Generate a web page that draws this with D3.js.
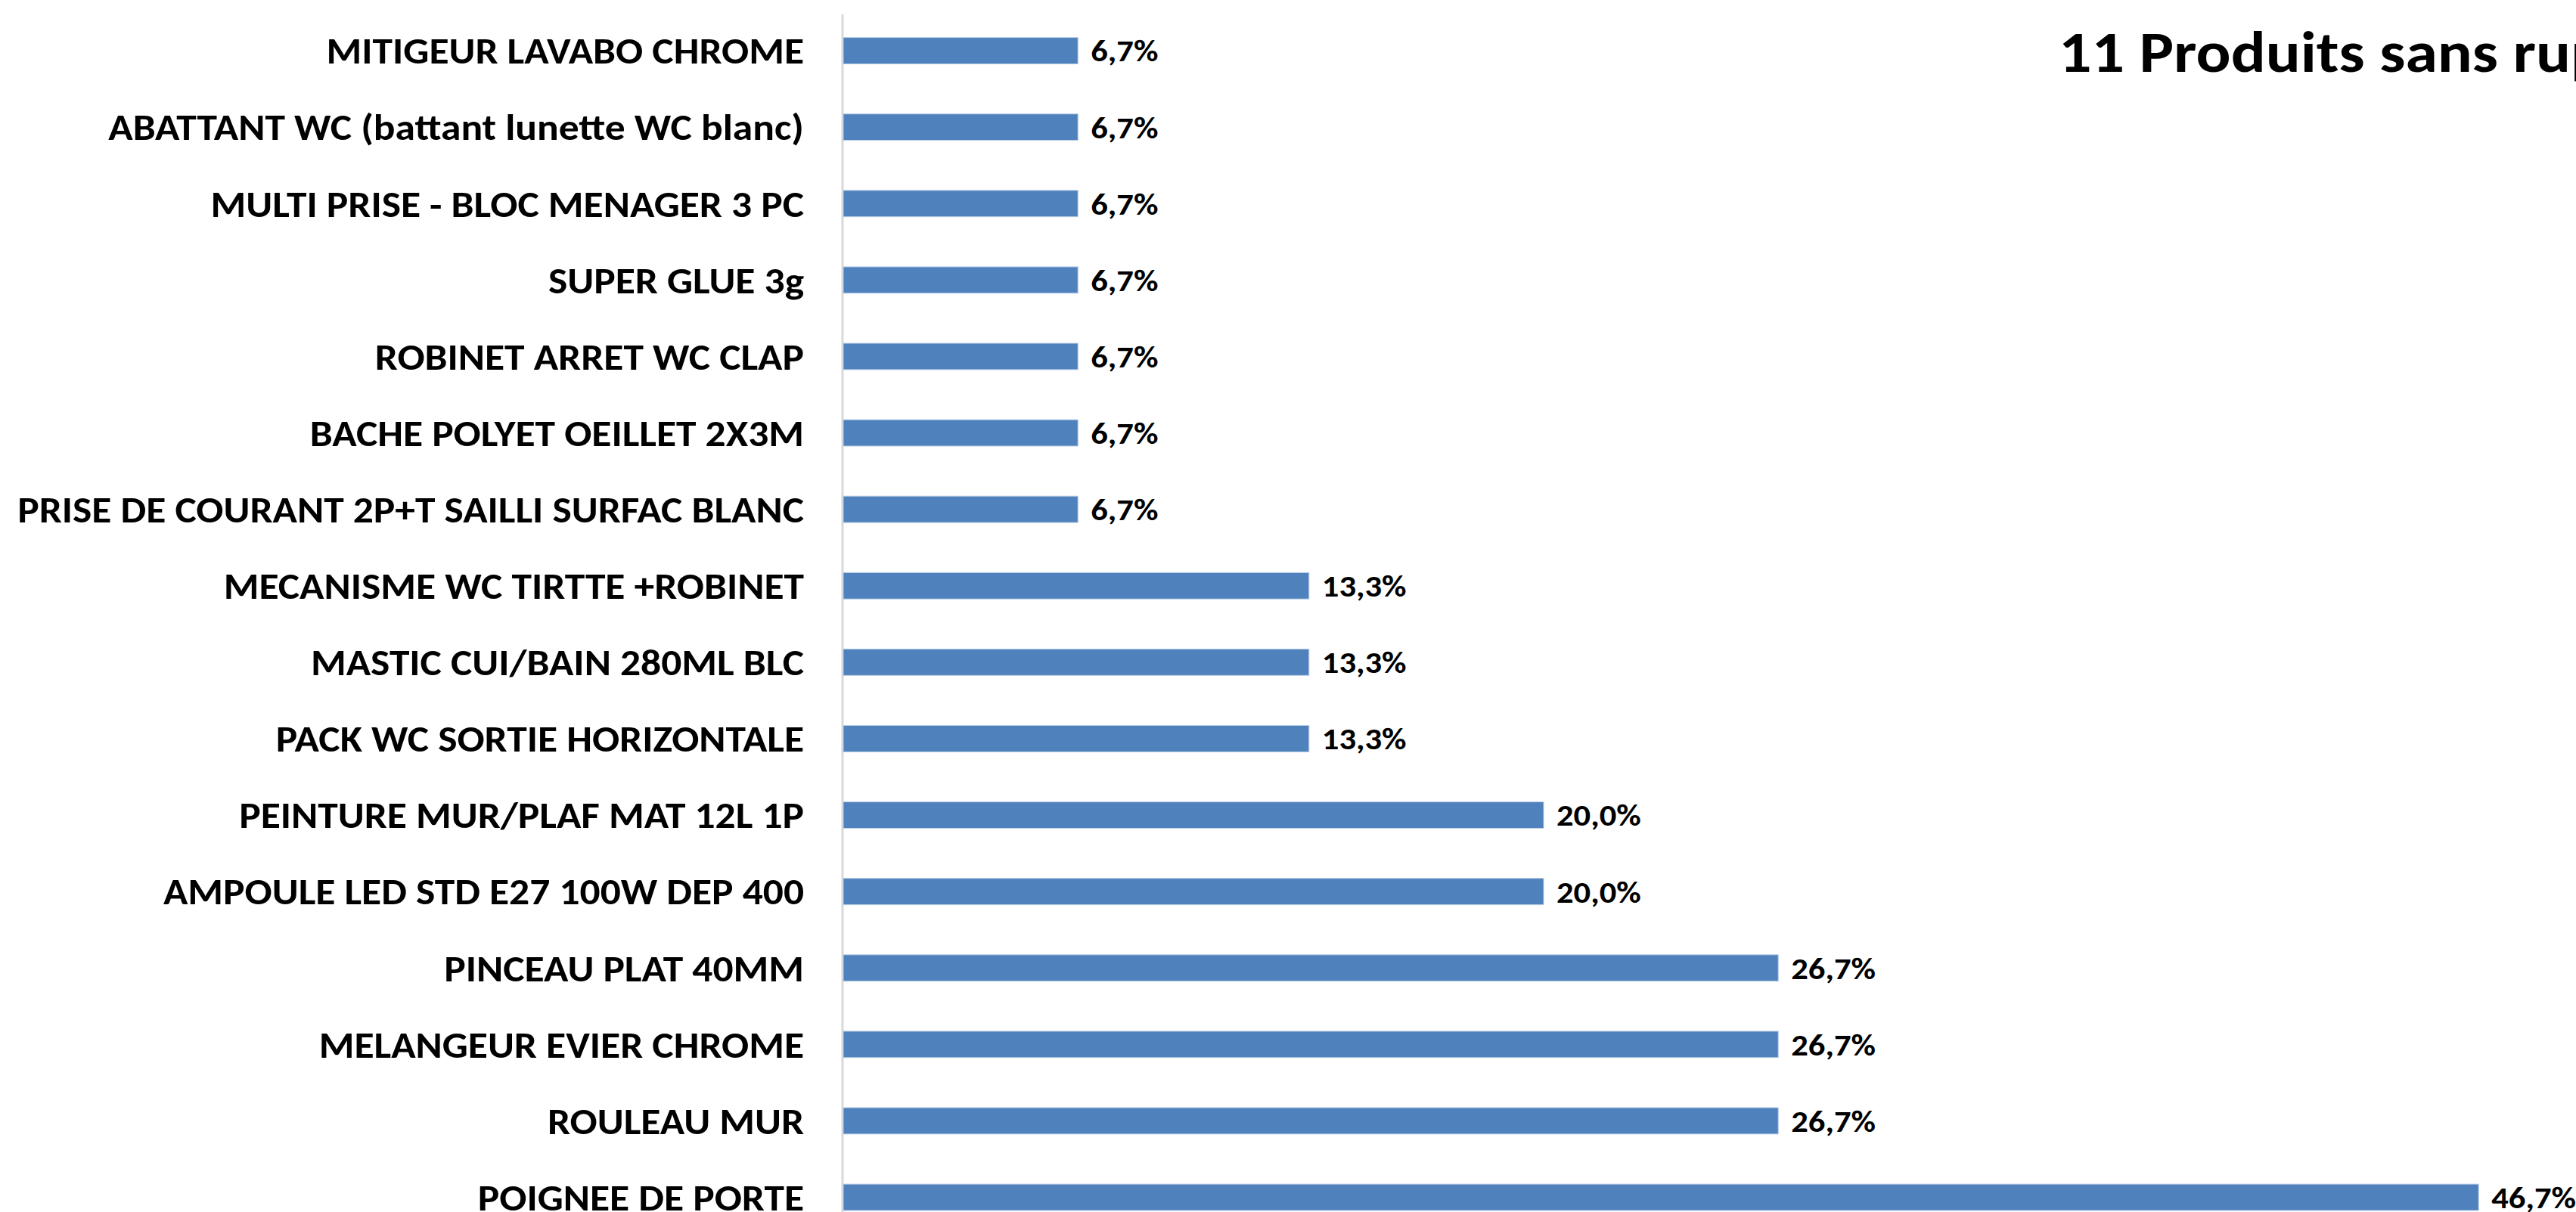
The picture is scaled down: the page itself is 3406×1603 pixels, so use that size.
<!DOCTYPE html>
<html>
<head>
<meta charset="utf-8">
<script src="https://cdn.jsdelivr.net/npm/d3@7"></script>
<style>
  html, body { margin: 0; padding: 0; background: #fff; overflow: hidden; }
  text { font-family: Carlito, Lato, "Open Sans", sans-serif; font-weight: bold; fill: #000; }
</style>
</head>
<body>
<script>
const categories = [
  "MITIGEUR LAVABO CHROME",
  "ABATTANT WC (battant lunette WC blanc)",
  "MULTI PRISE - BLOC MENAGER 3 PC",
  "SUPER GLUE 3g",
  "ROBINET ARRET WC CLAP",
  "BACHE POLYET OEILLET 2X3M",
  "PRISE DE COURANT 2P+T SAILLI SURFAC BLANC",
  "MECANISME WC TIRTTE +ROBINET",
  "MASTIC CUI/BAIN 280ML BLC",
  "PACK WC SORTIE HORIZONTALE",
  "PEINTURE MUR/PLAF MAT 12L 1P",
  "AMPOULE LED STD E27 100W DEP 400",
  "PINCEAU PLAT 40MM",
  "MELANGEUR EVIER CHROME",
  "ROULEAU MUR",
  "POIGNEE DE PORTE"
];
const values = [6.7, 6.7, 6.7, 6.7, 6.7, 6.7, 6.7, 13.3, 13.3, 13.3, 20.0, 20.0, 26.7, 26.7, 26.7, 46.7];
const title = "11 Produits sans rupture";

const width = 3406;
const height = 1603;
const axisX = 1114;

const svg = d3.select("body")
  .append("svg")
  .attr("width", width)
  .attr("height", height);

const xScale = d3.scaleLinear()
  .domain([0, 50])
  .range([axisX + 1, axisX + 1 + 2315]);

const yScale = d3.scaleBand()
  .domain(categories)
  .range([16.5, 16.5 + 16 * 101.1])
  .paddingInner(0.655)
  .paddingOuter(0.3275);

const fr = d3.formatLocale({ decimal: ",", thousands: " ", grouping: [3], currency: ["", " €"] });
const fmt = fr.format(".1f");

// the original font (Calibri) has other widths: stretch the fallback to the same label width
const probe = svg.append("text")
  .style("font-size", "48px")
  .text(categories[6]);
const sx = 1040 / probe.node().getComputedTextLength();
probe.remove();

// axis line
svg.append("line")
  .attr("x1", axisX).attr("x2", axisX)
  .attr("y1", 19).attr("y2", height)
  .attr("stroke", "#d9d9d9")
  .attr("stroke-width", 3);

svg.selectAll("rect.bar")
  .data(values)
  .enter()
  .append("rect")
  .attr("class", "bar")
  .attr("x", xScale(0))
  .attr("y", (d, i) => yScale(categories[i]))
  .attr("width", d => xScale(d) - xScale(0))
  .attr("height", yScale.bandwidth())
  .attr("fill", "#4f81bd")
  .attr("stroke", "#b9cde5")
  .attr("stroke-width", 1);

svg.selectAll("text.cat")
  .data(categories)
  .enter()
  .append("text")
  .attr("class", "cat")
  .attr("transform", d => `translate(1063, ${yScale(d) + yScale.bandwidth() / 2}) scale(${sx}, 1)`)
  .attr("text-anchor", "end")
  .attr("dy", "0.36em")
  .style("font-size", "48px")
  .text(d => d);

svg.selectAll("text.val")
  .data(values)
  .enter()
  .append("text")
  .attr("class", "val")
  .attr("transform", (d, i) => `translate(${xScale(d) + 17}, ${yScale(categories[i]) + yScale.bandwidth() / 2}) scale(${sx}, 1)`)
  .attr("dy", "0.36em")
  .style("font-size", "40px")
  .text(d => fmt(d) + "%");

svg.append("text")
  .attr("transform", `translate(2722, 95) scale(${sx}, 1)`)
  .style("font-size", "77px")
  .text(title);
</script>
</body>
</html>
